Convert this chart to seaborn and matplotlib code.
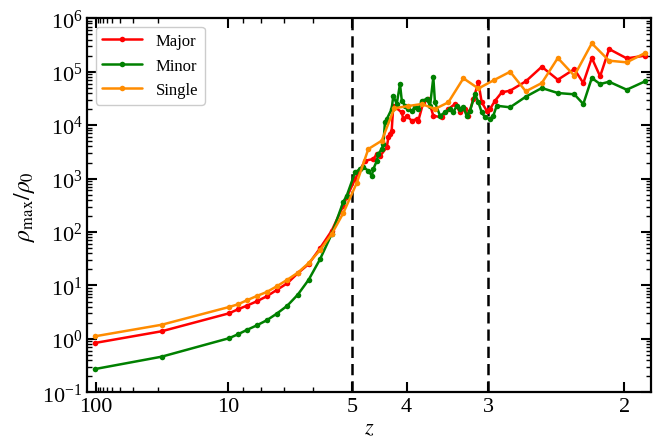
import numpy as np
import pandas as pd
import seaborn as sns
import matplotlib
matplotlib.use("Agg")
import matplotlib.pyplot as plt

# scale factor a = 1/(1+z) of every snapshot, and rho_max/rho_0
a_major = [0.0093, 0.0501, 0.0913, 0.0968, 0.1022, 0.1083, 0.1144, 0.1205, 0.1270, 0.1334,
           0.1401, 0.1470, 0.1542, 0.1613, 0.1634, 0.1685, 0.1746, 0.1797, 0.1818, 0.1838,
           0.1879, 0.1889, 0.1899, 0.1909, 0.1919, 0.1971, 0.1980, 0.2001, 0.2032, 0.2062,
           0.2072, 0.2103, 0.2133, 0.2164, 0.2215, 0.2256, 0.2297, 0.2328, 0.2358, 0.2378,
           0.2409, 0.2440, 0.2460, 0.2491, 0.2511, 0.2542, 0.2583, 0.2634, 0.2730, 0.2828,
           0.2926, 0.3027, 0.3082, 0.3134, 0.3185, 0.3240, 0.3348, 0.3460]
rho_major = [0.84, 1.39, 3.01, 3.58, 4.18, 5.05, 6.26, 8.22, 11.0, 16.9,
             25.2, 49.5, 106, 311, 447, 982, 2160, 2330, 2880, 2650,
             3850, 5930, 6840, 7870, 23100, 17400, 13000, 15000, 12100, 13000,
             12100, 26800, 30900, 15000, 14000, 20100, 24900, 17400, 20100, 15000,
             30900, 63400, 26800, 18600, 20100, 28700, 41200, 44200, 66200, 124000,
             70900, 112000, 61500, 181000, 82100, 266000, 178000, 200000]

a_minor = [0.0093, 0.0501, 0.0913, 0.0968, 0.1022, 0.1083, 0.1144, 0.1205, 0.1270, 0.1334,
           0.1401, 0.1470, 0.1542, 0.1613, 0.1634, 0.1685, 0.1715, 0.1736, 0.1766, 0.1787,
           0.1797, 0.1818, 0.1827, 0.1848, 0.1858, 0.1868, 0.1879, 0.1909, 0.1919, 0.1940,
           0.1960, 0.1971, 0.1991, 0.2011, 0.2032, 0.2052, 0.2072, 0.2093, 0.2124, 0.2144,
           0.2164, 0.2174, 0.2205, 0.2236, 0.2266, 0.2286, 0.2307, 0.2328, 0.2348, 0.2368,
           0.2389, 0.2419, 0.2440, 0.2460, 0.2481, 0.2511, 0.2531, 0.2552, 0.2634, 0.2730,
           0.2828, 0.2926, 0.3027, 0.3082, 0.3134, 0.3185, 0.3240, 0.3348, 0.3460]
rho_minor = [0.273, 0.465, 1.03, 1.22, 1.47, 1.79, 2.23, 2.96, 4.18, 6.71,
             12.8, 30.8, 91.9, 369, 479, 1310, 1510, 1630, 1410, 1130,
             1510, 2160, 2880, 3580, 4440, 11300, 13000, 20100, 35600, 24900,
             58900, 28700, 23100, 20100, 18600, 21600, 20000, 28700, 30900, 23100,
             78700, 26800, 15000, 17400, 20100, 17400, 23100, 20100, 21600, 15000,
             18600, 38300, 26800, 17400, 14000, 13000, 15000, 23100, 21600, 34100,
             49600, 40000, 37800, 24900, 76300, 58900, 65000, 46100, 66200]

a_single = [0.0093, 0.0501, 0.0913, 0.0968, 0.1022, 0.1083, 0.1144, 0.1205, 0.1270, 0.1334,
            0.1401, 0.1470, 0.1542, 0.1613, 0.1695, 0.1766, 0.1848, 0.1925, 0.2009, 0.2093,
            0.2174, 0.2256, 0.2348, 0.2440, 0.2536, 0.2634, 0.2730, 0.2828, 0.2926, 0.3027,
            0.3134, 0.3240, 0.3348, 0.3460]
rho_single = [1.12, 1.84, 3.95, 4.44, 5.27, 6.35, 7.54, 9.63, 12.8, 17.3,
              26.3, 45.5, 91.9, 227, 826, 3580, 5120, 20700, 22800, 24900,
              20100, 26800, 75400, 48600, 70000, 100000, 43000, 61500, 181000, 84300,
              340000, 161000, 150000, 224000]

z_major_ticks = [100, 10, 5, 4, 3, 2]
z_minor_ticks = [90, 80, 70, 60, 50, 40, 30, 20, 9, 8, 7, 6]
z_dashed = [5, 3]

sns.set_style("ticks", {"axes.edgecolor": "black", "xtick.color": "black",
                        "ytick.color": "black", "text.color": "black",
                        "axes.labelcolor": "black"})
plt.rcParams["font.family"] = ["Liberation Serif", "DejaVu Serif"]
plt.rcParams["mathtext.fontset"] = "stix"

fig = plt.figure(figsize=(6.59, 4.39), dpi=100)
ax = fig.add_axes([0.1325, 0.104, 0.8555, 0.852])

series = [("Major", a_major, rho_major, "red"),
          ("Minor", a_minor, rho_minor, "green"),
          ("Single", a_single, rho_single, "darkorange")]
for name, a, rho, col in series:
    df = pd.DataFrame({"a": a, "rho": rho})
    sns.lineplot(data=df, x="a", y="rho", ax=ax, color=col, label=name,
                 sort=False, estimator=None, lw=1.8, marker="o",
                 markersize=4, markeredgewidth=0)

for z in z_dashed:
    ax.axvline(1 / (1 + z), color="k", ls="--", lw=1.8, dashes=(4.5, 2.4), zorder=0)

ax.set_yscale("log")
ax.set_ylim(0.1, 1e6)
ax.set_xlim(0.0046, 0.3497)
ax.set_xticks([1 / (1 + z) for z in z_major_ticks])
ax.set_xticklabels([str(z) for z in z_major_ticks])
ax.set_xticks([1 / (1 + z) for z in z_minor_ticks], minor=True)

ax.tick_params(which="both", direction="in", top=True, right=True, labelsize=16)
ax.tick_params(which="major", length=7, width=1.5)
ax.tick_params(which="minor", length=3.5, width=1.0)
for sp in ax.spines.values():
    sp.set_linewidth(1.6)
    sp.set_color("black")

ax.set_xlabel(r"$z$", fontsize=16, labelpad=2)
ax.set_ylabel(r"$\rho_{\rm max}/\rho_0$", fontsize=17, labelpad=4)

ax.legend(loc="upper left", fontsize=12, handlelength=2.4, fancybox=True,
          edgecolor="0.8", framealpha=1.0)

fig.savefig("out.png", dpi=100)
